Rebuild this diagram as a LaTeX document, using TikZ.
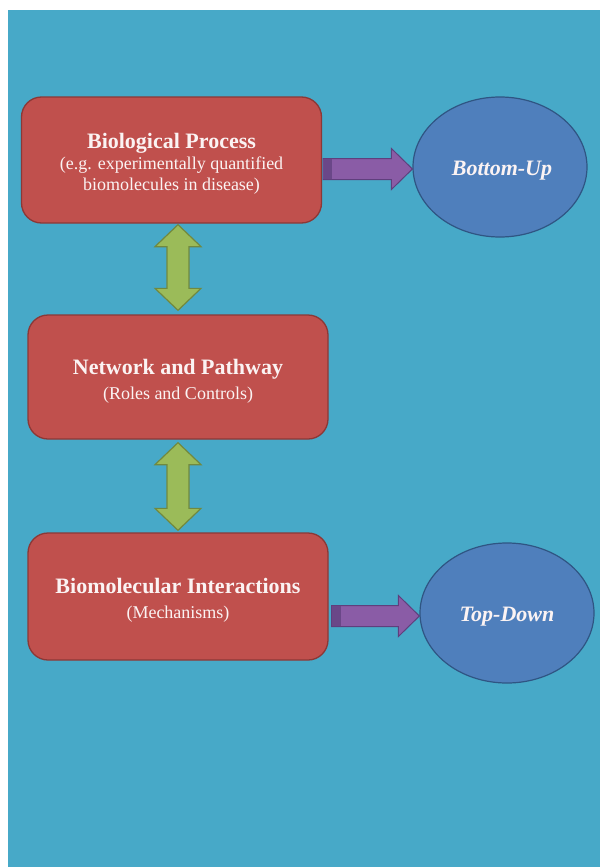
\documentclass[tikz,border=0pt]{standalone}
\usepackage{fontspec}
\setmainfont{Liberation Serif}
\usetikzlibrary{shapes.geometric,calc}
\definecolor{bg}{HTML}{47A9C8}
\definecolor{boxfill}{HTML}{C0504D}
\definecolor{boxline}{HTML}{8C3836}
\definecolor{ellfill}{HTML}{4F7FBC}
\definecolor{ellline}{HTML}{2F5583}
\definecolor{grnfill}{HTML}{9BBB59}
\definecolor{grnline}{HTML}{71893F}
\definecolor{purfill}{HTML}{8A5CA6}
\definecolor{purline}{HTML}{5F3F7D}
\definecolor{purdark}{HTML}{6A4788}
\definecolor{txt}{HTML}{FBF3F3}
\newcommand\ttlfont{\fontsize{22}{21}\selectfont\bfseries}
\newcommand\subfont{\fontsize{18}{21}\selectfont}
\begin{document}
\begin{tikzpicture}[x=1pt,y=-1pt,
  procbox/.style={draw=boxline, line width=1.3pt, fill=boxfill, rounded corners=20pt,
    minimum width=300pt, inner sep=0pt},
  boxtext/.style={inner sep=0pt, text=txt, align=center, font=\subfont},
  approach/.style={ellipse, draw=ellline, line width=1.2pt, fill=ellfill,
    minimum width=174pt, minimum height=140pt, inner sep=0pt},
  approachtext/.style={inner sep=0pt, text=txt, font=\fontsize{22}{25}\selectfont\bfseries\itshape},
  greenarrow/.style={draw=grnline, line width=1.2pt, fill=grnfill, line join=miter},
  purplearrow/.style={draw=purline, line width=1pt, fill=purfill, line join=miter}]
\useasboundingbox (0,0) rectangle (600,867);
\fill[white] (0,0) rectangle (600,867);
\fill[bg] (8,10) rectangle (600,867);

\node[procbox, minimum height=126pt] (b1) at (171.5,160) {};
\node[procbox, minimum height=124pt] (b2) at (178,377) {};
\node[procbox, minimum height=127pt] (b3) at (178,596.5) {};
\node[boxtext] (t1) at ($(b1.center)+(0,4)$)
  {{\ttlfont Biological Process}\\(e.g. experimentally quantified\\biomolecules in disease)};
\node[boxtext] (t2) at ($(b2.center)+(0,4.5)$)
  {{\ttlfont Network and Pathway}\\[4pt](Roles and Controls)};
\node[boxtext] (t3) at ($(b3.center)+(0,4)$)
  {{\ttlfont Biomolecular Interactions}\\[4pt](Mechanisms)};

\node[approach] (e1) at (500,167) {};
\node[approach] (e2) at (507,613) {};
\node[approachtext] (l1) at ($(e1.center)+(2,4)$) {Bottom-Up};
\node[approachtext] (l2) at ($(e2.center)+(0,4)$) {Top-Down};

% green double arrows
\coordinate (g1t) at ($(b2.north |- b1.south)+(0,1)$);
\coordinate (g1b) at ($(b2.north)+(0,-4)$);
\coordinate (g2t) at ($(b2.south)+(0,3)$);
\coordinate (g2b) at ($(b3.north)+(0,-2)$);
\foreach \t/\b in {g1t/g1b, g2t/g2b}{
  \draw[greenarrow] (\t) -- ($(\t)+(23,22)$) -- ($(\t)+(11,22)$) -- ($(\b)+(11,-22)$)
    -- ($(\b)+(23,-22)$) -- (\b) -- ($(\b)+(-23,-22)$) -- ($(\b)+(-11,-22)$)
    -- ($(\t)+(-11,22)$) -- ($(\t)+(-23,22)$) -- cycle;
}

% purple arrows
\coordinate (p1s) at ($(b1.east |- e1.west)+(1,2)$);
\coordinate (p1t) at ($(e1.west)+(0,2)$);
\coordinate (p2s) at ($(b3.east |- e2.west)+(3,3)$);
\coordinate (p2t) at ($(e2.west)+(0,3)$);
\foreach \s/\t in {p1s/p1t, p2s/p2t}{
  \draw[purplearrow] ($(\s)+(0,-10.5)$) -- ($(\t)+(-21,-10.5)$) -- ($(\t)+(-21,-20.5)$)
    -- (\t) -- ($(\t)+(-21,20.5)$) -- ($(\t)+(-21,10.5)$) -- ($(\s)+(0,10.5)$) -- cycle;
  \fill[purdark] ($(\s)+(0.5,-10)$) rectangle ($(\s)+(9,10)$);
}
\end{tikzpicture}
\end{document}
